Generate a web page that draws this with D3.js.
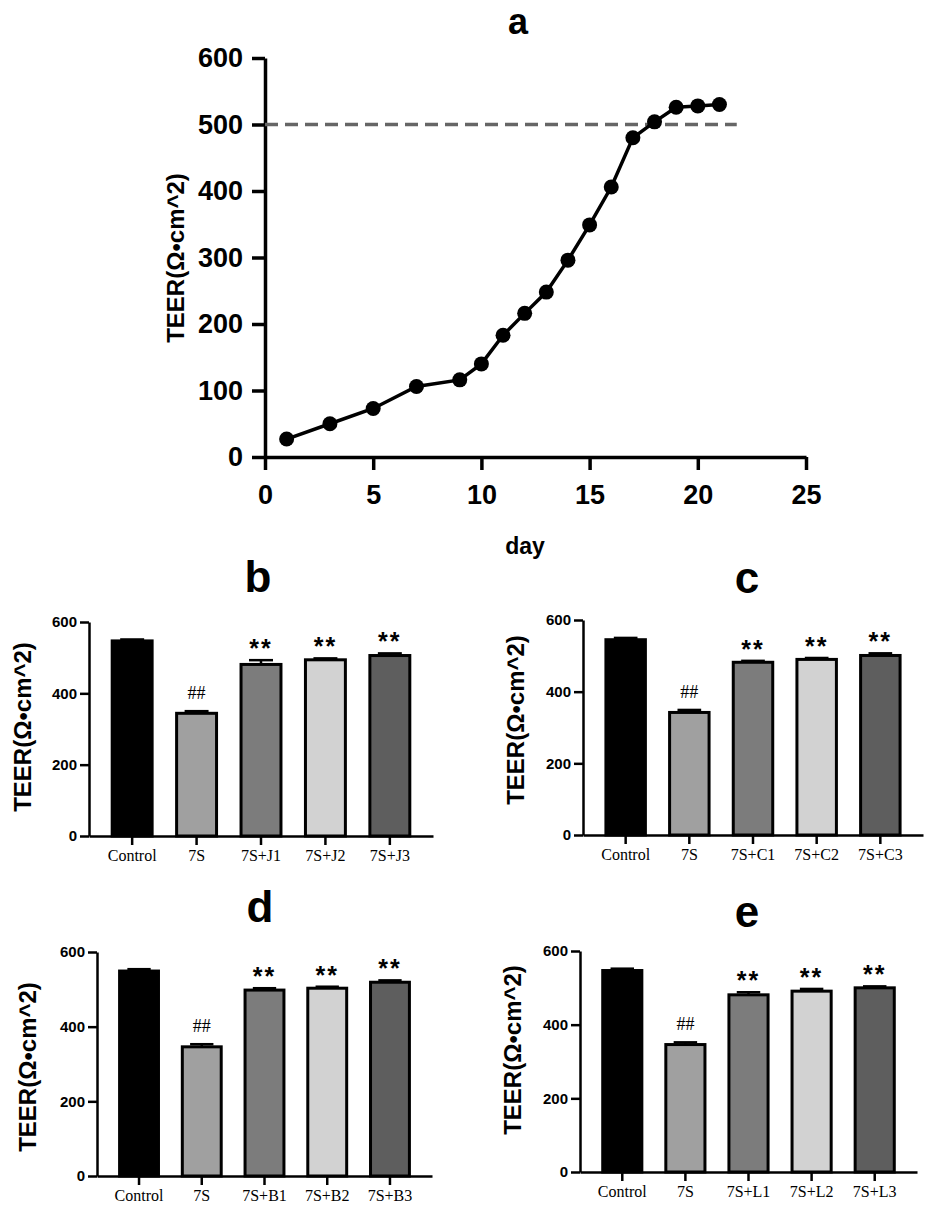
<!DOCTYPE html>
<html>
<head>
<meta charset="utf-8">
<script src="https://cdn.jsdelivr.net/npm/d3@7"></script>
<style>
  body { margin: 0; background: #fff; }
  svg text { font-family: "Liberation Sans", Arial, sans-serif; font-weight: bold; fill: #000; }
  svg text.serif { font-family: "Liberation Serif", "Times New Roman", serif; font-weight: normal; }
</style>
</head>
<body>
<div id="chart"></div>
<script>
// panel a: TEER growth over days
var growthDays = [1, 3, 5, 7, 9, 10, 11, 12, 13, 14, 15, 16, 17, 18, 19, 20, 21];
var growthTeer = [27, 50, 73, 106, 116, 140, 183, 216, 248, 296, 349, 406, 480, 504, 526, 528, 530];
var thresholdTeer = 500;
var thresholdEndDay = 21.8;
var dayTicks = [0, 5, 10, 15, 20, 25];
var growthTicks = [0, 100, 200, 300, 400, 500, 600];

// panels b-e: bar values (mean, upper error) and marks
var barTicks = [0, 200, 400, 600];
var barMarks = ["", "##", "**", "**", "**"];

var groupsB = ["Control", "7S", "7S+J1", "7S+J2", "7S+J3"];
var meansB = [547, 344, 481, 494, 506];
var errorsB = [4, 6, 12, 4, 6];

var groupsC = ["Control", "7S", "7S+C1", "7S+C2", "7S+C3"];
var meansC = [545, 342, 482, 490, 501];
var errorsC = [5, 7, 4, 4, 6];

var groupsD = ["Control", "7S", "7S+B1", "7S+B2", "7S+B3"];
var meansD = [549, 346, 498, 503, 519];
var errorsD = [5, 7, 5, 4, 5];

var groupsE = ["Control", "7S", "7S+L1", "7S+L2", "7S+L3"];
var meansE = [547, 346, 481, 491, 500];
var errorsE = [5, 6, 7, 6, 4];

var barFills = ["#000000", "#a0a0a0", "#7c7c7c", "#d2d2d2", "#5e5e5e"];
var yLabel = "TEER(\u03A9\u2022cm^2)";

var width = 935, height = 1213;
var svg = d3.select("#chart").append("svg").attr("width", width).attr("height", height);

function styleAxis(g, lineWidth, fontSize) {
  g.select(".domain").attr("stroke", "#000").attr("stroke-width", lineWidth);
  g.selectAll(".tick line").attr("stroke", "#000").attr("stroke-width", lineWidth);
  g.selectAll(".tick text").attr("fill", "#000").style("font-size", fontSize + "px");
}

// ---- panel a ----
var x = d3.scaleLinear().domain([0, 25]).range([265, 806]);
var y = d3.scaleLinear().domain([0, 600]).range([457, 58]);

svg.append("g")
  .attr("transform", "translate(0," + y(0) + ")")
  .call(d3.axisBottom(x).tickValues(dayTicks).tickSize(13).tickSizeOuter(0).tickPadding(15))
  .call(styleAxis, 3.5, 27);
svg.append("g")
  .attr("transform", "translate(" + x(0) + ",0)")
  .call(d3.axisLeft(y).tickValues(growthTicks).tickSize(13).tickSizeOuter(0).tickPadding(9))
  .call(styleAxis, 3.5, 27);

svg.append("line")
  .attr("x1", x(0)).attr("x2", x(thresholdEndDay))
  .attr("y1", y(thresholdTeer)).attr("y2", y(thresholdTeer))
  .attr("stroke", "#666").attr("stroke-width", 3.5).attr("stroke-dasharray", "13,7");

var growth = growthDays.map(function (d, i) { return { day: d, teer: growthTeer[i] }; });
svg.append("path")
  .datum(growth)
  .attr("fill", "none")
  .attr("stroke", "#000")
  .attr("stroke-width", 3.5)
  .attr("d", d3.line().x(function (d) { return x(d.day); }).y(function (d) { return y(d.teer); }));
svg.append("g").selectAll("circle")
  .data(growth)
  .enter()
  .append("circle")
  .attr("cx", function (d) { return x(d.day); })
  .attr("cy", function (d) { return y(d.teer); })
  .attr("r", 7.5)
  .attr("fill", "#000");

svg.append("text").attr("x", 518).attr("y", 34).attr("text-anchor", "middle").style("font-size", "36px").text("a");
svg.append("text").attr("x", 525).attr("y", 554).attr("text-anchor", "middle").style("font-size", "23px").text("day");
svg.append("text")
  .attr("transform", "translate(184,258) rotate(-90)")
  .attr("text-anchor", "middle")
  .style("font-size", "24px")
  .text(yLabel);

// ---- bar panels ----
function drawBars(p) {
  var data = p.groups.map(function (g, i) {
    return { group: g, mean: p.means[i], err: p.errors[i], mark: barMarks[i], fill: barFills[i] };
  });
  var bx = d3.scaleBand().domain(p.groups).range([p.left, p.right]).paddingInner(0.38).paddingOuter(0.36);
  var by = d3.scaleLinear().domain([0, 600]).range([p.bottom, p.top]);
  var g = svg.append("g");

  var capW = bx.bandwidth() * 0.6;
  var bars = g.selectAll("g.bar").data(data).enter().append("g").attr("class", "bar");
  bars.append("line")
    .attr("x1", function (d) { return bx(d.group) + bx.bandwidth() / 2; })
    .attr("x2", function (d) { return bx(d.group) + bx.bandwidth() / 2; })
    .attr("y1", function (d) { return by(d.mean); })
    .attr("y2", function (d) { return by(d.mean + d.err); })
    .attr("stroke", "#000").attr("stroke-width", 2.5);
  bars.append("line")
    .attr("x1", function (d) { return bx(d.group) + bx.bandwidth() / 2 - capW / 2; })
    .attr("x2", function (d) { return bx(d.group) + bx.bandwidth() / 2 + capW / 2; })
    .attr("y1", function (d) { return by(d.mean + d.err); })
    .attr("y2", function (d) { return by(d.mean + d.err); })
    .attr("stroke", "#000").attr("stroke-width", 2.5);
  bars.append("rect")
    .attr("x", function (d) { return bx(d.group); })
    .attr("y", function (d) { return by(d.mean); })
    .attr("width", bx.bandwidth())
    .attr("height", function (d) { return by(0) - by(d.mean); })
    .attr("fill", function (d) { return d.fill; })
    .attr("stroke", "#000")
    .attr("stroke-width", 3);
  bars.append("text")
    .attr("class", function (d) { return d.mark === "##" ? "serif" : null; })
    .attr("x", function (d) { return bx(d.group) + bx.bandwidth() / 2; })
    .attr("y", function (d) { return by(d.mean + d.err) - (d.mark === "##" ? 12 : 3); })
    .attr("text-anchor", "middle")
    .style("font-size", function (d) { return d.mark === "##" ? "18px" : "25px"; })
    .style("letter-spacing", function (d) { return d.mark === "**" ? "2px" : null; })
    .text(function (d) { return d.mark; });

  g.append("g")
    .attr("transform", "translate(0," + p.bottom + ")")
    .call(d3.axisBottom(bx).tickSize(9).tickSizeOuter(0).tickPadding(5))
    .call(styleAxis, 2.5, 16)
    .selectAll(".tick text").attr("class", "serif");
  g.append("g")
    .attr("transform", "translate(" + p.left + ",0)")
    .call(d3.axisLeft(by).tickValues(barTicks).tickSize(9).tickSizeOuter(0).tickPadding(3))
    .call(styleAxis, 2.5, 15);

  g.append("text").attr("x", p.titleX).attr("y", p.titleY).attr("text-anchor", "middle").style("font-size", "44px").text(p.title);
  g.append("text")
    .attr("transform", "translate(" + p.labelX + "," + p.labelY + ") rotate(-90)")
    .attr("text-anchor", "middle")
    .style("font-size", "24px")
    .text(yLabel);
}

drawBars({ title: "b", groups: groupsB, means: meansB, errors: errorsB,
  left: 89, right: 433, bottom: 836, top: 622, titleX: 258, titleY: 592, labelX: 31, labelY: 727 });
drawBars({ title: "c", groups: groupsC, means: meansC, errors: errorsC,
  left: 583, right: 923, bottom: 835, top: 620, titleX: 747, titleY: 593, labelX: 524, labelY: 720 });
drawBars({ title: "d", groups: groupsD, means: meansD, errors: errorsD,
  left: 97, right: 432, bottom: 1176, top: 952, titleX: 260, titleY: 922, labelX: 36, labelY: 1067 });
drawBars({ title: "e", groups: groupsE, means: meansE, errors: errorsE,
  left: 580, right: 917, bottom: 1172, top: 951, titleX: 747, titleY: 927, labelX: 521, labelY: 1050 });
</script>
</body>
</html>
